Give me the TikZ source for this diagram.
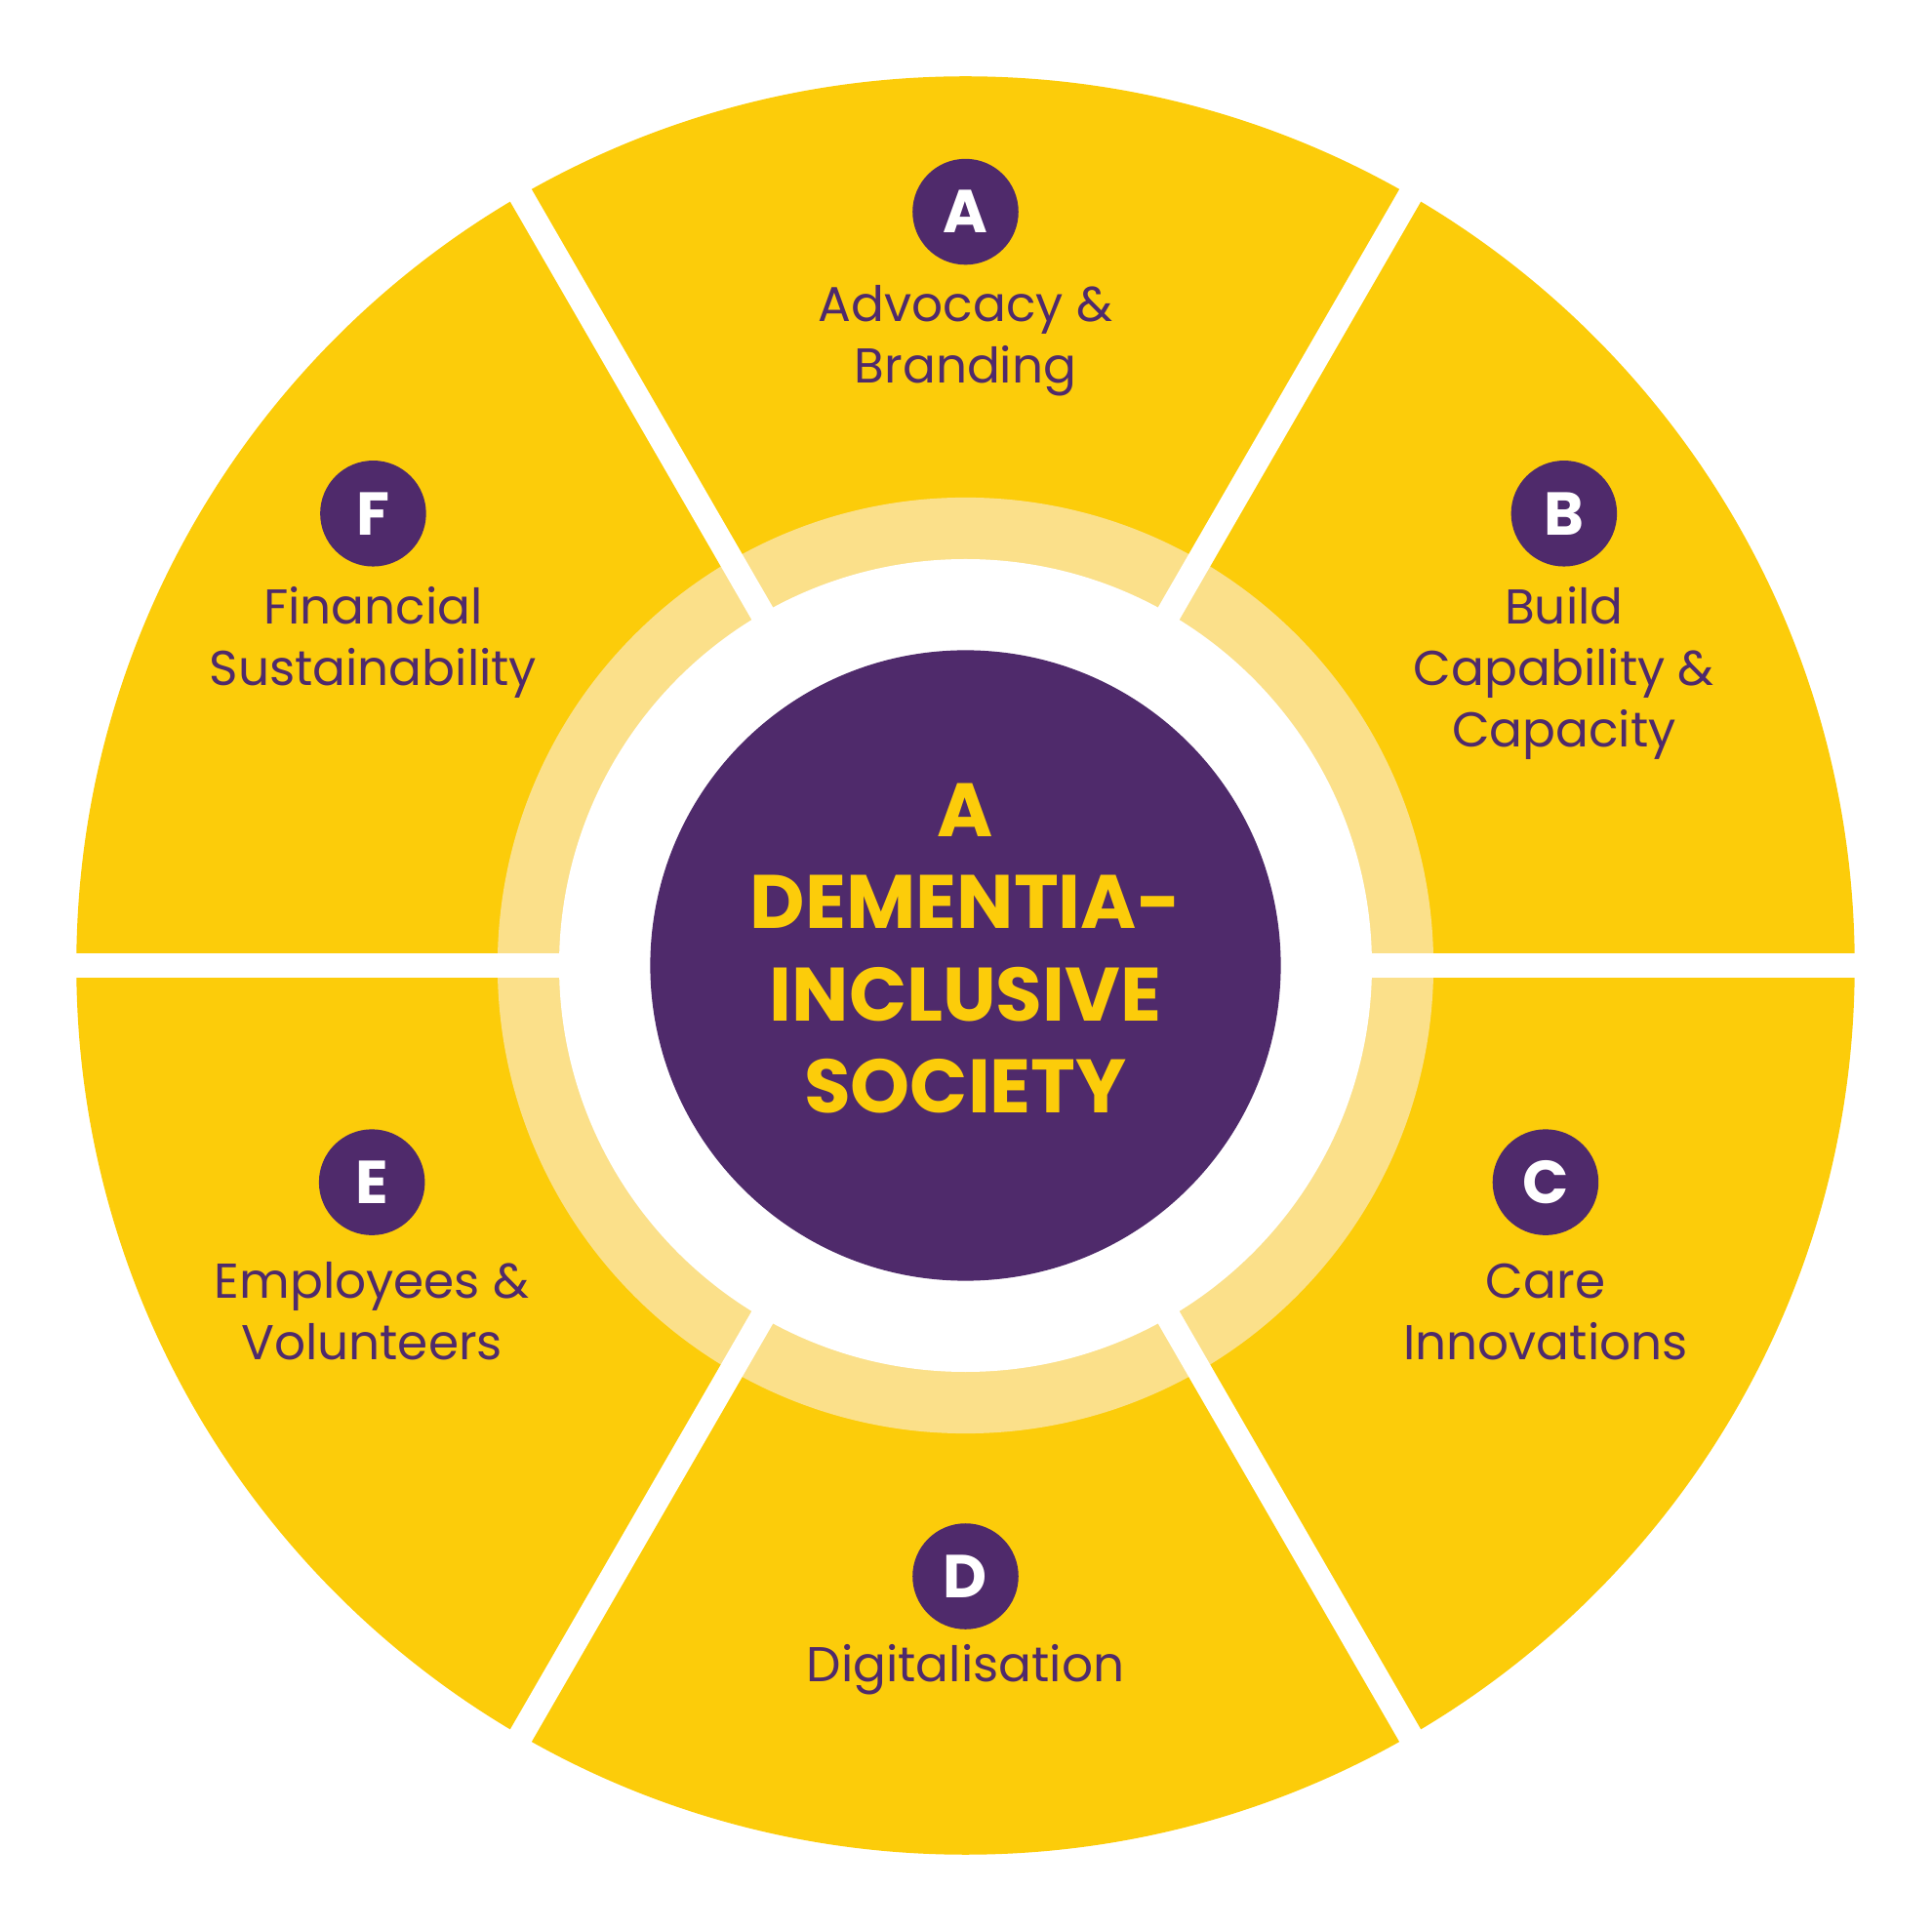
\documentclass[tikz,border=0pt]{standalone}
\usepackage{fontspec}
\setmainfont{Poppins}
\definecolor{dyellow}{HTML}{FCCC0A}
\definecolor{dlight}{HTML}{FBE08A}
\definecolor{dpurple}{HTML}{4F2A6B}
\begin{document}
\begin{tikzpicture}[
  letter/.style={circle, fill=dpurple, text=white, minimum size=0.86cm, inner sep=0pt, font=\fontsize{14}{14}\selectfont\bfseries},
  label/.style={text=dpurple, align=center, font=\fontsize{11.3}{14.2}\selectfont},
  centre/.style={text=dyellow, align=center, font=\fontsize{17.5}{21.3}\selectfont\bfseries}]
\useasboundingbox (-7.84,-7.84) rectangle (7.84,7.84);

% rings
\fill[dyellow] (0,0) circle (7.22cm);
\fill[dlight] (0,0) circle (3.8cm);
\fill[white] (0,0) circle (3.3cm);
\fill[dpurple] (0,0) circle (2.56cm);

% gaps between the six parts
\foreach \ang in {0,60,...,300}
  \draw[white, line width=0.2cm] (\ang:3.2cm) -- (\ang:7.4cm);

% letters
\node[letter] (A) at (0,6.12) {A};
\node[letter] (B) at (4.86,3.67) {B};
\node[letter] (C) at (4.71,-1.76) {C};
\node[letter] (D) at (0,-4.96) {D};
\node[letter] (E) at (-4.82,-1.76) {E};
\node[letter] (F) at (-4.81,3.67) {F};

% labels
\node[label] (Alab) at (0,5.07) {Advocacy \&\\Branding};
\node[label] (Blab) at (4.86,2.37) {Build\\Capability \&\\Capacity};
\node[label] (Clab) at (4.71,-2.81) {Care\\Innovations};
\node[label] (Dlab) at (0,-5.72) {Digitalisation};
\node[label] (Elab) at (-4.82,-2.81) {Employees \&\\Volunteers};
\node[label] (Flab) at (-4.81,2.62) {Financial\\Sustainability};

\node[centre] (society) at (0,0.14) {A\\DEMENTIA-\\INCLUSIVE\\SOCIETY};
\end{tikzpicture}
\end{document}
